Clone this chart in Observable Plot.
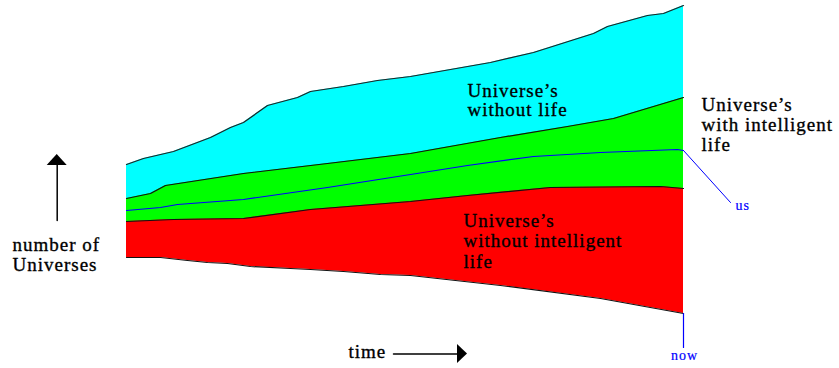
<!DOCTYPE html>
<html>
<head>
<meta charset="utf-8">
<script src="https://cdn.jsdelivr.net/npm/d3@7"></script>
<script src="https://cdn.jsdelivr.net/npm/@observablehq/plot@0.6"></script>
<style>
  html, body { margin: 0; padding: 0; background: #fff; }
  svg text { letter-spacing: 1px; }
</style>
</head>
<body>
<div id="chart"></div>
<script>
// time (x) vs number of universes (y, counted upward)
const cyanTop = [[126,204],[143,210],[173,217],[210,231],[230,241],[243,246],[267,263],[297,271],[310,277],[343,282],[377,288],[410,292],[490,306],[533,316],[593,335],[607,342],[647,353],[663,355],[683,363]];
const greenTop = [[126,170],[150,175],[165,183],[243,195],[327,205],[410,215],[500,231],[567,242],[613,250],[633,256],[683,271]];
const usLine = [[126,158],[160,161],[177,164],[243,169],[327,181],[410,194],[467,203],[533,212],[600,216],[677,219],[683,218]];
const redTop = [[126,147],[173,149],[243,150],[310,159],[410,167],[467,173],[550,181],[660,182],[683,180]];
const bottom = [[126,111],[160,111],[187,108],[207,106],[227,105],[250,102],[290,100],[310,99],[343,97],[380,94],[410,93],[500,83],[600,70],[683,55]];

const usPointer = [[683,218],[730,166]];
const nowPointer = [[683,55],[683,21]];
const yArrowShaft = [[56.7,148],[56.7,204]];
const yArrowHead = [[46.7,203,203],[56.7,203,214],[66.7,203,203]];
const tArrowShaft = [[393,14.5],[458,14.5]];
const tArrowHead = [[5,457,457],[14.5,457,467],[24,457,457]];

const labelCyan = "Universe’s\nwithout life";
const labelRed = "Universe’s\nwithout intelligent\nlife";
const labelGreen = "Universe’s\nwith intelligent\nlife";
const labelY = "number of\nUniverses";
const labelX = "time";
const labelUs = "us";
const labelNow = "now";

const X = d => d[0], Y = d => d[1];
const serif = "Liberation Serif, Times New Roman, serif";
const bigText = {textAnchor: "start", lineAnchor: "bottom", fontSize: 19, fontFamily: serif, fill: "#000", stroke: "#000", strokeWidth: 0.35};
const smallText = {lineAnchor: "bottom", fontSize: 14, fontFamily: serif, fill: "#0000ff", stroke: "#0000ff", strokeWidth: 0.2};

const chart = Plot.plot({
  width: 839,
  height: 368,
  margin: 0,
  x: {domain: [0, 839], range: [0, 839], axis: null},
  y: {domain: [0, 368], range: [368, 0], axis: null},
  marks: [
    Plot.areaY(cyanTop, {x: X, y1: 0, y2: Y, fill: "#00ffff"}),
    Plot.areaY(greenTop, {x: X, y1: 0, y2: Y, fill: "#00ff00"}),
    Plot.areaY(redTop, {x: X, y1: 0, y2: Y, fill: "#ff0000"}),
    Plot.areaY(bottom, {x: X, y1: 0, y2: Y, fill: "#ffffff"}),
    Plot.line(cyanTop, {x: X, y: Y, stroke: "#222", strokeWidth: 1.2}),
    Plot.line(greenTop, {x: X, y: Y, stroke: "#111", strokeWidth: 1.2}),
    Plot.line(redTop, {x: X, y: Y, stroke: "#111", strokeWidth: 1.2}),
    Plot.line(bottom, {x: X, y: Y, stroke: "#111", strokeWidth: 1.2}),
    Plot.line(usLine, {x: X, y: Y, stroke: "#0000ff", strokeWidth: 1.2}),
    Plot.line(usPointer, {x: X, y: Y, stroke: "#0000ff", strokeWidth: 1}),
    Plot.line(nowPointer, {x: X, y: Y, stroke: "#0000ff", strokeWidth: 1.2}),
    Plot.line(yArrowShaft, {x: X, y: Y, stroke: "#000", strokeWidth: 1.5}),
    Plot.areaY(yArrowHead, {x: d => d[0], y1: d => d[1], y2: d => d[2], fill: "#000"}),
    Plot.line(tArrowShaft, {x: X, y: Y, stroke: "#000", strokeWidth: 1.5}),
    Plot.areaX(tArrowHead, {y: d => d[0], x1: d => d[1], x2: d => d[2], fill: "#000"}),
    Plot.text([labelCyan], {x: 467, y: 253, text: d => d, lineHeight: 1.0, ...bigText}),
    Plot.text([labelRed], {x: 463, y: 100.7, text: d => d, lineHeight: 1.08, ...bigText}),
    Plot.text([labelGreen], {x: 701, y: 218, text: d => d, lineHeight: 1.05, ...bigText}),
    Plot.text([labelY], {x: 12, y: 98, text: d => d, lineHeight: 1.05, ...bigText}),
    Plot.text([labelX], {x: 348, y: 11, text: d => d, ...bigText}),
    Plot.text([labelUs], {x: 735, y: 159, text: d => d, textAnchor: "start", ...smallText}),
    Plot.text([labelNow], {x: 684, y: 9, text: d => d, textAnchor: "middle", ...smallText})
  ]
});
document.getElementById("chart").appendChild(chart);
</script>
</body>
</html>
